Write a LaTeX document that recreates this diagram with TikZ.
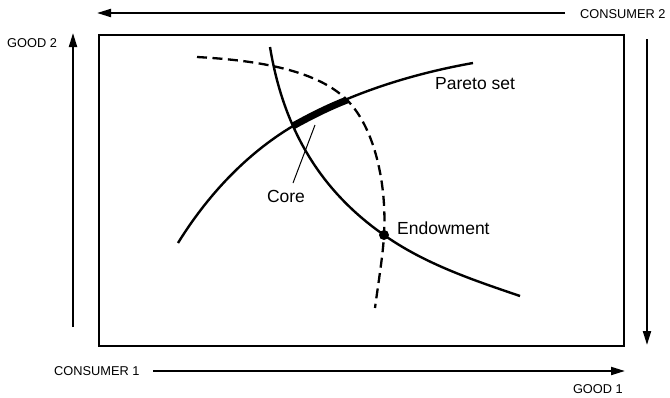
\documentclass[tikz,border=0pt]{standalone}
\usepackage{fontspec}
\setmainfont{Liberation Sans}
\usetikzlibrary{arrows.meta}
\tikzset{
  axis/.style={line width=2pt,-{Triangle[length=14pt,width=8pt]}},
  curve/.style={line width=2.4pt},
  dcurve/.style={line width=2.3pt,dash pattern=on 10pt off 5.5pt},
  small/.style={font=\fontsize{12.8}{14}\selectfont, inner sep=0pt},
  big/.style={font=\fontsize{17.5}{20}\selectfont, inner sep=0pt},
}
\begin{document}
\begin{tikzpicture}[x=1pt,y=-1pt]
\useasboundingbox (0,0) rectangle (670,397);
% box
\draw[line width=1.6pt] (99,35) rectangle (624,346);
% axes
\coordinate (t1) at (565,13); \coordinate (t0) at (97,13);
\draw[axis] (t1) -- (t0);
\coordinate (l0) at (73,327); \coordinate (l1) at (73,33);
\draw[axis] (l0) -- (l1);
\coordinate (r0) at (647,39); \coordinate (r1) at (647,345);
\draw[axis] (r0) -- (r1);
\coordinate (b0) at (153,371); \coordinate (b1) at (625,371);
\draw[axis] (b0) -- (b1);
% labels
\node[small,anchor=west] (c2) at (580,14.5) {CONSUMER 2};
\node[small,anchor=west] (g2) at (7,43.5) {GOOD 2};
\node[small,anchor=west] (c1) at (54,371.5) {CONSUMER 1};
\node[small,anchor=east] (g1) at (623,389.5) {GOOD 1};
% key points
\coordinate (k0) at (293,126);
\coordinate (k1) at (347,100);
\coordinate (e) at (384,235);
% Pareto set
\draw[curve] (178,243) .. controls (207,196) and (246,154) .. (k0)
  .. controls (347,94) and (411,74) .. (473,63);
% indifference curve through endowment
\draw[curve] (270,47) .. controls (283,126) and (318,189) .. (e)
  .. controls (425,264) and (473,280) .. (520,296);
% dashed curve
\draw[dcurve] (197,57) .. controls (250,60) and (315,68) .. (k1)
  .. controls (375,128) and (387,185) .. (e)
  .. controls (383,255) and (378,285) .. (375,308);
% core
\draw[line width=7pt] (k0) .. controls (311,116) and (329,107) .. (k1);
% endowment
\fill (e) circle (5pt);
\node[big,anchor=base west] (en) at (397,234) {Endowment};
\node[big,anchor=west] (ps) at (435,84) {Pareto set};
\node[big] (core) at (286,196) {Core};
\coordinate (cl0) at (293,183); \coordinate (cl1) at (315,125);
\draw[line width=1pt] (cl0) -- (cl1);
\end{tikzpicture}
\end{document}
